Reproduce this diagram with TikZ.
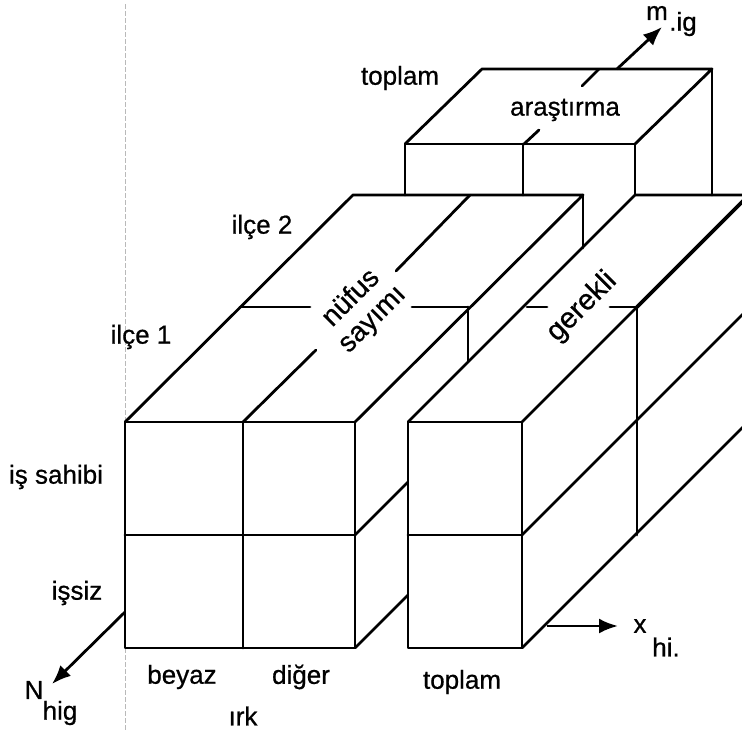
\documentclass[tikz,border=0pt]{standalone}
\usepackage{fontspec}
\setmainfont{Liberation Sans}
\newfontfamily\lblfont{Liberation Sans}[FakeBold=0.7]
\usetikzlibrary{arrows.meta}
\begin{document}
\begin{tikzpicture}[x=1pt,y=-1pt,
  edge/.style={line width=2.8pt, line cap=round, line join=round},
  lbl/.style={font=\lblfont\fontsize{26}{30}\selectfont, inner sep=0pt, anchor=center},
  rlbl/.style={font=\lblfont\fontsize{28}{30}\selectfont, inner sep=0pt, anchor=center, rotate=45},
  axis/.style={line width=2.8pt, -{Latex[length=19pt,width=15pt]}}]
\useasboundingbox (0,0) rectangle (742,731);
\clip (0,0) rectangle (742,731);
% faint scan line
\draw[gray!55, line width=0.6pt, dash pattern=on 5pt off 2pt] (125,4) -- (125,731);

% ---------- araştırma block ----------
\draw[edge] (405,195) -- (405,144) -- (635,144) -- (635,195);
\draw[edge] (523,144) -- (523,195);
\draw[edge] (405,144) -- (482,69) -- (712,69) -- (635,144);
\draw[edge] (712,69) -- (712,195);
\draw[edge] (524,144) -- (539,130);
\draw[edge] (582,86) -- (599,69);

% ---------- nüfus sayımı block ----------
\draw[edge] (125,422) rectangle (355,648);
\draw[edge] (243,422) -- (243,648);
\draw[edge] (125,535) -- (355,535);
\draw[edge] (125,422) -- (353,195) -- (583,195) -- (355,422);
\draw[edge] (243,422) -- (316,350);
\draw[edge] (396,271) -- (470,195);
\draw[edge] (240,307) -- (310,307);
\draw[edge] (412,307) -- (468,307);
\draw[edge] (468,307) -- (468,361);
\draw[edge] (583,195) -- (583,248);
\draw[edge] (355,535) -- (408,482);
\draw[edge] (355,648) -- (408,595);

% ---------- gerekli block ----------
\draw[edge] (408,422) rectangle (522,648);
\draw[edge] (408,535) -- (522,535);
\draw[edge] (408,422) -- (635,195) -- (760,195);
\draw[edge] (522,422) -- (637,307);
\draw[line width=3.6pt, line cap=round] (637,307) -- (760,184);
\draw[edge] (527,307) -- (547,307);
\draw[edge] (610,307) -- (637,307);
\draw[edge] (637,307) -- (637,535);
\draw[edge] (522,535) -- (760,297);
\draw[edge] (522,648) -- (760,410);

% ---------- axes ----------
\coordinate (mstart) at (617,69);
\coordinate (mend) at (662,27);
\draw[axis] (mstart) -- (mend);
\coordinate (nstart) at (125,612);
\coordinate (nend) at (52,684);
\draw[axis] (nstart) -- (nend);
\coordinate (xstart) at (547,626);
\coordinate (xend) at (618,626);
\draw[axis] (xstart) -- (xend);

% ---------- labels ----------
\node[lbl] (m) at (657,13) {m};
\node[lbl] (mig) at (683,24) {.ig};
\node[lbl] (N) at (34,690) {N};
\node[lbl] (Nhig) at (60,713) {hig};
\node[lbl] (x) at (640,626) {x};
\node[lbl] (xhi) at (666,647) {hi.};

\node[lbl] (toplamtop) at (400,78) {toplam};
\node[lbl] (arastirma) at (565,110) {araştırma};
\node[lbl] (ilce2) at (262,227) {ilçe 2};
\node[lbl] (ilce1) at (141,337) {ilçe 1};
\node[lbl] (issahibi) at (56,477) {iş sahibi};
\node[lbl] (issiz) at (77,593) {işsiz};
\node[lbl] (beyaz) at (182,677) {beyaz};
\node[lbl] (diger) at (301,677) {diğer};
\node[lbl] (irk) at (243,716) {ırk};
\node[lbl] (toplambot) at (462,682) {toplam};
\node[rlbl, align=center] (nufus) at (362,309) {nüfus\\sayımı};
\node[rlbl, font=\lblfont\fontsize{29}{30}\selectfont] (gerekli) at (582,307) {gerekli};
\end{tikzpicture}
\end{document}
